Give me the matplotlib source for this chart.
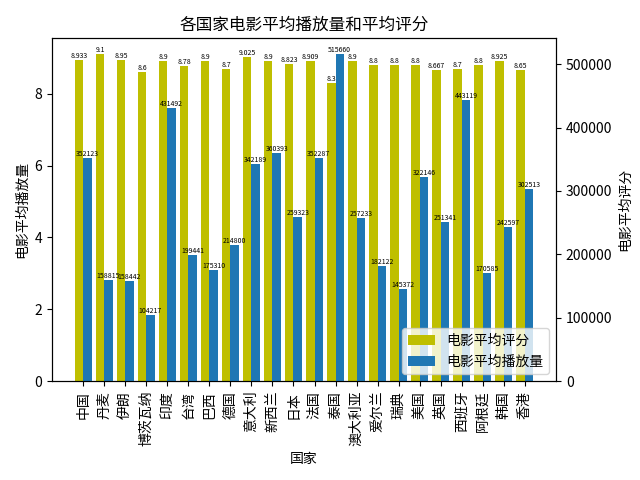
import matplotlib
matplotlib.use("Agg")
import matplotlib.pyplot as plt
import numpy as np

plt.rcParams['font.family'] = ['Noto Sans CJK SC', 'DejaVu Sans']
plt.rcParams['axes.unicode_minus'] = False

countries = ['中国', '丹麦', '伊朗', '博茨瓦纳', '印度', '台湾', '巴西', '德国', '意大利', '新西兰',
             '日本', '法国', '泰国', '澳大利亚', '爱尔兰', '瑞典', '美国', '英国', '西班牙', '阿根廷',
             '韩国', '香港']
ratings = [8.933, 9.1, 8.95, 8.6, 8.9, 8.78, 8.9, 8.7, 9.025, 8.9,
           8.823, 8.909, 8.3, 8.9, 8.8, 8.8, 8.8, 8.667, 8.7, 8.8,
           8.925, 8.65]
plays = [352123, 158815, 158442, 104217, 431492, 199441, 175310, 214800, 342189, 360393,
         259323, 352287, 515660, 257233, 182122, 145372, 322146, 251341, 443119, 170585,
         242597, 302513]

x = np.arange(len(countries))
w = 0.4

fig = plt.figure(figsize=(6.4, 4.8), dpi=100)
ax1 = fig.add_subplot(111)
fig.subplots_adjust(left=0.081, right=0.869, top=0.921, bottom=0.206)

b1 = ax1.bar(x - w / 2, ratings, width=w, color='y', label='电影平均评分')
for xi, v in zip(x, ratings):
    ax1.text(xi - w / 2, v, f'{v:g}', ha='center', va='bottom', fontsize=5)
ax1.set_ylabel('电影平均播放量')
ax1.set_xlabel('国家')
ax1.set_xticks(x)
ax1.set_xticklabels(countries, rotation=90)
ax1.set_title('各国家电影平均播放量和平均评分')

ax2 = ax1.twinx()
b2 = ax2.bar(x + w / 2, plays, width=w, color='#1f77b4', label='电影平均播放量')
for xi, v in zip(x, plays):
    ax2.text(xi + w / 2, v, f'{v}', ha='center', va='bottom', fontsize=5)
ax2.set_ylabel('电影平均评分')

ax2.legend([b1, b2], ['电影平均评分', '电影平均播放量'], loc='lower right')

fig.savefig('out.png', dpi=100)
